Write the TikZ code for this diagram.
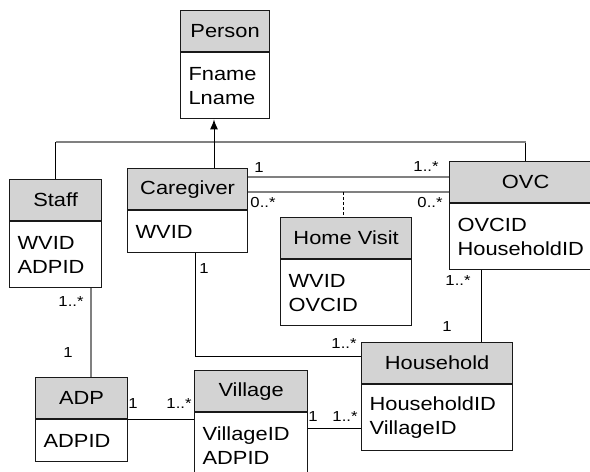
\documentclass[tikz,border=0pt]{standalone}
\usepackage{fontspec}
\setmainfont{Liberation Sans}[FakeStretch=1.15]
\usetikzlibrary{positioning,calc,arrows.meta}
\definecolor{umlhead}{RGB}{211,211,211}
\definecolor{umlline}{RGB}{128,128,128}
\definecolor{umlborder}{RGB}{25,25,25}
\newcommand{\clsfont}{\fontsize{19}{24}\selectfont}
\newcommand{\multfont}{\fontsize{14.5}{17}\selectfont}

\begin{document}
\begin{tikzpicture}[x=1pt, y=-1pt,
    head/.style={draw=umlborder, line width=1.2pt, fill=umlhead, anchor=north west,
                 minimum height=41pt, inner sep=0pt, font=\clsfont},
    attrs/.style={draw=umlborder, line width=1.2pt, fill=white, align=left,
                  inner xsep=8pt, inner ysep=0pt, font=\clsfont},
    mult/.style={inner sep=0pt, font=\multfont},
    assoc/.style={draw=black, line width=1pt},
    assocg/.style={draw=umlline, line width=1.4pt}]
    \useasboundingbox (0,0) rectangle (590,472);
    \clip (0,0) rectangle (590,472);

    % Classes
    \node[head, minimum width=89pt] (person) at (180,10) {Person};
    \node[attrs, text width=73pt, minimum height=66pt, below=0pt of person] (personb) {Fname\\Lname};

    \node[head, minimum width=92pt] (staff) at (9,179) {Staff};
    \node[attrs, text width=76pt, minimum height=66pt, below=0pt of staff] (staffb) {WVID\\ADPID};

    \node[head, minimum width=120pt] (caregiver) at (127,168) {Caregiver};
    \node[attrs, text width=104pt, minimum height=42pt, below=0pt of caregiver] (caregiverb) {WVID};

    \node[head, minimum width=131pt] (visit) at (280,217) {Home Visit};
    \node[attrs, text width=115pt, minimum height=66pt, below=0pt of visit] (visitb) {WVID\\OVCID};

    \node[head, minimum width=152pt] (ovc) at (449,161) {OVC};
    \node[attrs, text width=136pt, minimum height=66pt, below=0pt of ovc] (ovcb) {OVCID\\HouseholdID};

    \node[head, minimum width=151pt] (household) at (361,342) {Household};
    \node[attrs, text width=135pt, minimum height=66pt, below=0pt of household] (householdb) {HouseholdID\\VillageID};

    \node[head, minimum width=92pt] (adp) at (35,377) {ADP};
    \node[attrs, text width=76pt, minimum height=42pt, below=0pt of adp] (adpb) {ADPID};

    \node[head, minimum width=113pt] (village) at (194,370) {Village};
    \node[attrs, text width=97pt, minimum height=66pt, below=0pt of village] (villageb) {VillageID\\ADPID};

    % Generalisation to Person
    \coordinate (bus) at (214,142);
    \draw[assoc] (staff.north) -- (staff.north |- bus);
    \draw[assoc] (ovc.north) -- (ovc.north |- bus);
    \draw[assocg] (staff.north |- bus) -- (ovc.north |- bus);
    \draw[assoc] (caregiver.north -| bus) -- (bus);
    \draw[assoc, -{Latex[length=10pt,width=8pt]}] (bus) -- (bus |- personb.south);

    % Caregiver -- OVC
    \path (caregiver.north east) ++(0,9) coordinate (cv1) ++(0,15) coordinate (cv2);
    \draw[assocg] (cv1) -- (cv1 -| ovc.west);
    \draw[assocg] (cv2) -- (cv2 -| ovc.west);
    \node[mult] (m1) at (259,168) {1};
    \node[mult] (m2) at (426,167) {1..*};
    \node[mult] (m3) at (263,203) {0..*};
    \node[mult] (m4) at (430,203) {0..*};

    % Home Visit association class
    \coordinate (hvlink) at (343,192);
    \draw[black, line width=0.8pt, dash pattern=on 3pt off 2pt] (hvlink) -- (hvlink |- visit.north);

    % Caregiver -- Household
    \coordinate (cgbend) at (195,356);
    \draw[assoc] (caregiverb.south -| cgbend) |- (household.west |- cgbend);
    \node[mult] (m5) at (204,269) {1};
    \node[mult] (m6) at (344,344) {1..*};

    % OVC -- Household
    \coordinate (ovhh) at (481,300);
    \draw[assoc] (ovcb.south -| ovhh) -- (household.north -| ovhh);
    \node[mult] (m7) at (458,281) {1..*};
    \node[mult] (m8) at (447,327) {1};

    % Staff -- ADP
    \coordinate (sa) at (91,330);
    \draw[assocg] (staffb.south -| sa) -- (adp.north -| sa);
    \node[mult] (m9) at (71,302) {1..*};
    \node[mult] (m10) at (68,353) {1};

    % ADP -- Village
    \draw[assoc] (adp.south east) -- (adp.south east -| village.west);
    \node[mult] (m11) at (133,404) {1};
    \node[mult] (m12) at (179,404) {1..*};

    % Village -- Household
    \coordinate (vh) at (334,428);
    \draw[assoc] (vh -| villageb.east) -- (vh -| householdb.west);
    \node[mult] (m13) at (313,417) {1};
    \node[mult] (m14) at (345,417) {1..*};
\end{tikzpicture}
\end{document}
